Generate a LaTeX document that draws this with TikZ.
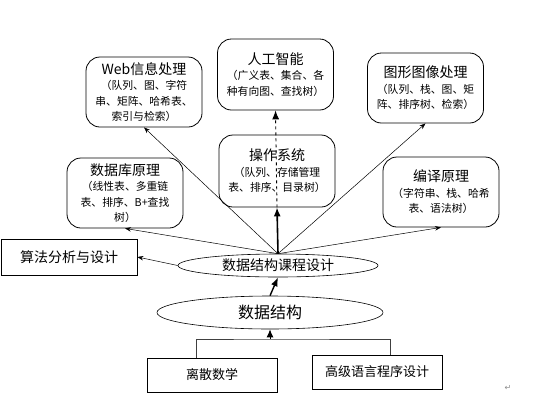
\documentclass[tikz,border=0pt]{standalone}
\usepackage{fontspec}
\setmainfont{Noto Sans CJK SC}
\newfontfamily\markfont{DejaVu Sans}
\usetikzlibrary{arrows.meta,shapes.geometric}
\newcommand\boxtitle[1]{{\fontsize{14}{16}\selectfont #1}}

\begin{document}
\begin{tikzpicture}[x=1pt, y=-1pt,
  topic/.style={draw, rounded corners=14pt, line width=0.8pt, minimum width=116pt, minimum height=70pt, align=center, inner sep=2pt, font=\fontsize{10.8}{15.5}\selectfont},
  course/.style={draw, line width=0.8pt, minimum width=130pt, minimum height=34pt, inner sep=0, font=\fontsize{13}{16}\selectfont},
  oval/.style={draw, ellipse, line width=0.6pt, inner sep=0},
  link/.style={-{Stealth[length=6pt, width=4.5pt]}, line width=0.5pt},
  heavy/.style={-{Latex[length=9pt, width=7pt]}, line width=1.6pt}
]
\useasboundingbox (0,0) rectangle (538,418);

% application areas
\node[topic] (web) at (144,92) {\boxtitle{Web信息处理}\\（队列、图、字符\\串、矩阵、哈希表、\\索引与检索）};
\node[topic, minimum height=71pt] (ai) at (275.5,74.5) {\boxtitle{人工智能}\\（广义表、集合、各\\种有向图、查找树）};
\node[topic] (img) at (425.5,88) {\boxtitle{图形图像处理}\\（队列、栈、图、矩\\阵、排序树、检索）};
\node[topic] (db) at (125,193) {\boxtitle{数据库原理}\\（线性表、多重链\\表、排序、B+查找\\树）};
\node[topic, minimum height=72pt] (os) at (277,171) {\boxtitle{操作系统}\\（队列、存储管理\\表、排序、目录树）};
\node[topic] (comp) at (441,192) {\boxtitle{编译原理}\\（字符串、栈、哈希\\表、语法树）};
\node[course, minimum width=136pt, minimum height=36pt, font=\fontsize{14}{16}\selectfont] (algo) at (69,257) {算法分析与设计};

% core courses
\node[oval, minimum width=200pt, minimum height=23pt, font=\fontsize{14}{16}\selectfont] (design) at (278,265.5) {数据结构课程设计};
\node[oval, minimum width=226pt, minimum height=33pt, font=\fontsize{16}{18}\selectfont] (ds) at (270,312.5) {数据结构};

% prerequisites
\node[course] (disc) at (212,375) {离散数学};
\node[course] (hll) at (377,372) {高级语言程序设计};
\coordinate (join) at (270,339);
\node[text=black!45, font=\markfont\fontsize{8}{8}\selectfont] (mark) at (508,388) {↵};

% fan from the course design
\draw[link] (design.north) -- (web.south);
\draw[link] (design.north) -- (img.south);
\draw[link] (design.north) -- (db.south);
\draw[link] (design.north) -- (comp.south);
\draw[link] (design.west) -- (algo.east);
\draw[heavy] (design.north) -- (os.south);
\draw[heavy, dashed, line width=0.9pt] (os.south) -- (ai.south);

% bottom part
\draw[heavy, line width=1.4pt] (ds.north) -- (design.south);
\draw[line width=1pt, black!75] ([xshift=-16pt]disc.north) |- (join) -| ([xshift=13pt]hll.north);
\draw[heavy, line width=1pt, -{Latex[length=8pt, width=7pt]}] (join) -- (ds.south);
\end{tikzpicture}
\end{document}
